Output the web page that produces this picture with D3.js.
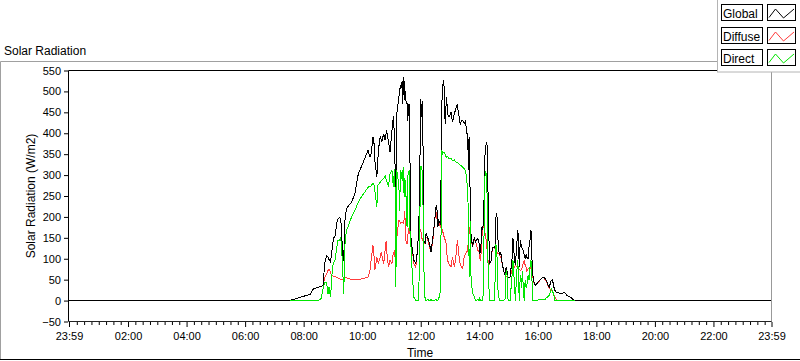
<!DOCTYPE html>
<html><head><meta charset="utf-8">
<script src="https://cdn.jsdelivr.net/npm/d3@7"></script>
<style>body{margin:0;background:#fff;} svg{display:block;font-family:"Liberation Sans",Arial,sans-serif;}</style>
</head><body><svg id="c" width="800" height="361"></svg>
<script>
// time in minutes after midnight (−1 = 23:59 of the previous day)
const timeMinutes = [-1,451,465,482,494,499,509,516,520,523,527,530,532,535,537,539,541,545,547,550,553,556,558,560,562,565,568,572,578,585,592,598,605,612,616,619,622,625,626,630,632,633,637,639,640,644,647,649,650,654,657,661,664,666,668,669,671,675,677,678,679,682,683,684,685,686,687,689,690,692,693,696,698,699,700,703,706,710,713,716,718,720,722,724,726,727,729,731,734,738,741,745,748,751,753,755,757,760,761,763,765,766,768,770,772,773,775,778,782,785,789,792,795,797,799,801,803,806,809,812,814,816,818,819,820,822,823,825,826,830,832,834,837,840,841,843,845,847,849,850,852,855,857,858,861,864,867,871,873,874,876,878,881,884,887,890,893,895,897,899,903,907,909,910,912,914,917,919,920,922,924,927,928,930,932,934,936,937,940,942,944,946,947,949,950,951,955,958,961,964,968,971,974,978,981,984,986,988,990,993,995,998,1001,1008,1011,1015,1018,1021,1028,1032,1036,1439];
const globalVals = [0,0,5,11,15,27,32,33,38,88,108,104,98,92,108,130,148,156,180,195,198,196,160,104,96,199,219,227,235,255,303,319,339,359,343,355,391,370,335,295,330,359,391,385,379,399,383,400,407,379,355,407,442,395,287,112,447,486,500,514,505,526,471,500,534,520,480,502,470,470,430,470,330,167,150,120,96,88,116,172,300,482,440,478,152,140,138,160,152,136,116,152,184,223,227,175,191,185,215,470,500,526,510,423,470,486,447,438,450,427,447,459,470,450,438,420,430,431,423,431,400,400,311,391,295,250,160,140,128,152,140,144,148,136,112,120,175,168,200,260,360,380,363,250,88,95,128,128,130,199,210,150,110,115,88,72,60,80,70,56,56,96,150,136,100,84,136,168,150,80,144,128,125,120,110,100,110,104,100,130,144,168,120,80,60,48,36,40,46,48,54,56,54,48,36,32,45,48,50,32,24,20,19,16,18,20,15,11,7,3,0,0];
const diffuseVals = [0,0,5,11,15,27,32,33,38,55,64,72,76,68,60,59,58,58,56,54,53,50,50,50,52,56,55,52,51,50,50,52,54,56,72,104,132,96,72,104,95,88,104,116,110,88,120,142,120,80,96,88,116,104,130,110,152,191,190,184,185,187,186,185,184,195,215,168,136,136,152,175,160,144,140,120,88,80,116,172,170,168,150,144,140,136,138,152,148,128,116,144,184,215,199,175,187,178,175,170,168,160,152,145,136,120,96,88,80,104,80,104,144,125,100,88,80,76,104,112,115,120,150,175,165,155,152,135,128,148,140,135,120,116,100,96,150,168,184,180,160,140,104,95,88,95,126,128,120,113,112,115,110,104,88,72,60,58,56,56,56,72,74,76,80,84,80,78,76,74,72,75,80,88,95,85,80,70,76,78,80,75,70,64,55,44,36,40,44,48,54,56,52,44,34,28,27,26,23,15,8,2,0,0,0,0,0,0,0,0,0,0];
const directVals = [null,0,0,0,0,0,0,5,30,44,42,16,32,8,40,80,88,100,120,144,144,152,120,80,15,144,168,180,199,215,235,247,259,271,273,275,281,275,263,223,275,277,283,287,287,292,299,290,285,275,303,311,271,315,247,32,311,279,215,300,311,287,300,319,280,247,290,287,240,175,295,311,167,136,130,56,8,0,0,0,191,320,320,295,90,60,0,0,3,0,2,0,0,3,0,0,5,20,72,359,351,355,355,350,343,343,345,339,340,335,336,331,330,328,325,323,322,319,315,311,290,271,191,104,56,191,60,32,20,8,0,0,3,0,5,0,0,0,30,207,310,300,200,80,0,0,0,0,72,136,120,30,0,0,0,0,5,72,60,0,0,56,96,80,40,0,72,96,60,0,60,30,70,40,0,48,30,32,60,50,80,96,80,20,0,0,0,0,2,2,2,2,2,7,10,14,24,28,24,12,0,0,0,0,0,0,0,0,0,0,0,null];

const yTickValues = [-50,0,50,100,150,200,250,300,350,400,450,500,550];
const xMajorTicks = [-1,120,240,360,480,600,720,840,960,1080,1200,1320,1439];
const xTickLabels = ["23:59","02:00","04:00","06:00","08:00","10:00","12:00","14:00","16:00","18:00","20:00","22:00","23:59"];
const xMinorTicks = d3.range(15, 1439, 15).filter(m => m % 120 !== 0);
const seriesNames = ["Global","Diffuse","Direct"];
const seriesColors = ["#000000","#ff3c3c","#00e600"];

const svg = d3.select("#c");
const L = 68.5, R = 771.5, T = 70.5, B = 321.5;
const x = d3.scaleLinear().domain([-1, 1439]).range([L + 0.5, R]);
const y = d3.scaleLinear().domain([-50, 550]).range([B, T]);

// outer panel frame
svg.append("line").attr("x1",0.5).attr("y1",61.5).attr("x2",718).attr("y2",61.5).attr("stroke","#a0a0a0");
svg.append("line").attr("x1",0.5).attr("y1",61.5).attr("x2",0.5).attr("y2",360).attr("stroke","#a0a0a0");
svg.append("line").attr("x1",0).attr("y1",359.5).attr("x2",800).attr("y2",359.5).attr("stroke","#000");

svg.append("text").attr("x",4).attr("y",55).attr("font-size",12).attr("fill","#000").text("Solar Radiation");

// plot area
svg.append("rect").attr("x",L).attr("y",T).attr("width",R-L).attr("height",B-T).attr("fill","#fff");

const data = timeMinutes.map((t,i)=>({t, g:globalVals[i], d:diffuseVals[i], r:directVals[i]}));
const mk = key => d3.line().defined(d => d[key] !== null).x(d => x(d.t)).y(d => y(d[key]));
const plot = svg.append("g").attr("shape-rendering","crispEdges");
plot.append("path").datum(data).attr("d", mk("d")).attr("fill","none").attr("stroke",seriesColors[1]).attr("stroke-width",1);
plot.append("path").datum(data).attr("d", mk("g")).attr("fill","none").attr("stroke",seriesColors[0]).attr("stroke-width",1);
plot.append("path").datum(data).attr("d", mk("r")).attr("fill","none").attr("stroke",seriesColors[2]).attr("stroke-width",1);

// plot frame
svg.append("line").attr("x1",L).attr("y1",T).attr("x2",R+0.5).attr("y2",T).attr("stroke","#000");
svg.append("line").attr("x1",L).attr("y1",T).attr("x2",L).attr("y2",B).attr("stroke","#000");
svg.append("line").attr("x1",L).attr("y1",B).attr("x2",R+0.5).attr("y2",B).attr("stroke","#222");
svg.append("line").attr("x1",R).attr("y1",T).attr("x2",R).attr("y2",B).attr("stroke","#999");

// y axis
const yAxis = d3.axisLeft(y).tickValues(yTickValues).tickSize(4).tickPadding(3).tickFormat(d3.format("d"));
const gy = svg.append("g").attr("transform",`translate(${L-0.5},0)`).call(yAxis);
gy.select(".domain").remove();
gy.selectAll("text").attr("font-size",11).attr("font-family","Liberation Sans, Arial, sans-serif").attr("fill","#000");
gy.selectAll("line").attr("stroke","#000");

// x axis
const xAxis = d3.axisBottom(x).tickValues(xMajorTicks).tickSize(5).tickPadding(5).tickFormat((d,i)=>xTickLabels[i]);
const gx = svg.append("g").attr("transform",`translate(0,${B+0.5})`).call(xAxis);
gx.select(".domain").remove();
gx.selectAll("text").attr("font-size",11).attr("font-family","Liberation Sans, Arial, sans-serif").attr("fill","#000");
gx.selectAll("line").attr("stroke","#000");
const gxm = svg.append("g").attr("transform",`translate(0,${B+0.5})`).call(d3.axisBottom(x).tickValues(xMinorTicks).tickSize(3).tickFormat(""));
gxm.select(".domain").remove();
gxm.selectAll("line").attr("stroke","#000");

svg.append("text").attr("transform",`translate(35,${(T+B)/2}) rotate(-90)`).attr("text-anchor","middle").attr("font-size",12).attr("fill","#000").text("Solar Radiation (W/m2)");
svg.append("text").attr("x",(L+R)/2).attr("y",357).attr("text-anchor","middle").attr("font-size",12).attr("fill","#000").text("Time");

// legend
const lg = svg.append("g");
lg.append("rect").attr("x",717.5).attr("y",-1).attr("width",84).attr("height",73).attr("fill","#fff").attr("stroke","#b4b4b4");
seriesNames.forEach((name,i)=>{
  const y0 = 4 + i*22.7;
  lg.append("rect").attr("x",721.5).attr("y",Math.round(y0)+0.5).attr("width",41).attr("height",16).attr("fill","#fff").attr("stroke","#000");
  lg.append("text").attr("x",723).attr("y",Math.round(y0)+14).attr("font-size",12).attr("fill","#000").text(name);
  lg.append("rect").attr("x",767.5).attr("y",Math.round(y0)+0.5).attr("width",28).attr("height",16).attr("fill","#fff").attr("stroke","#000");
  const yy = Math.round(y0);
  lg.append("polyline").attr("points",`769,${yy+13.5} 775.5,${yy+5} 783.5,${yy+14} 794,${yy+5}`).attr("fill","none").attr("stroke",seriesColors[i]).attr("stroke-width",1);
});
</script></body></html>
